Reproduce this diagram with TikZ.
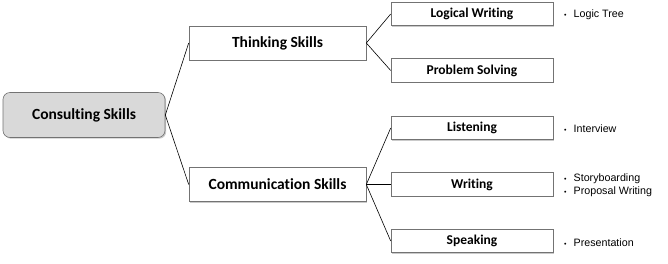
\documentclass[tikz,border=0pt]{standalone}
\usepackage{fontspec}
\setmainfont{Liberation Sans}
\newfontfamily\boxfont[Ligatures={NoCommon}]{Carlito}
\usetikzlibrary{shadows}
\begin{document}
\begin{tikzpicture}[x=1pt,y=-1pt,
  boxbase/.style={draw=black!55, line width=0.6pt, fill=white, inner sep=0pt,
    drop shadow={shadow xshift=1.2pt, shadow yshift=-1.2pt, opacity=0.35, fill=black!60}},
  rootbox/.style={boxbase, rounded corners=7pt, fill=black!15, minimum width=162pt, minimum height=45pt, font=\boxfont\bfseries\fontsize{15.5}{17}\selectfont},
  midbox/.style={boxbase, minimum width=177pt, minimum height=34pt, font=\boxfont\bfseries\fontsize{15.5}{17}\selectfont},
  leafbox/.style={boxbase, minimum width=162pt, minimum height=23.5pt, font=\boxfont\bfseries\fontsize{13.5}{15}\selectfont},
  note/.style={anchor=west, inner sep=0pt, font=\fontsize{10.7}{12}\selectfont},
  link/.style={draw=black, line width=0.6pt}]
\useasboundingbox (0,0) rectangle (668,263);
\node[rootbox] (root) at (84,115) {Consulting Skills};
\node[midbox] (think) at (277.5,43) {Thinking Skills};
\node[midbox] (comm) at (277.5,184.5) {Communication Skills};
\node[leafbox] (logic) at (472,14) {Logical Writing};
\node[leafbox] (prob) at (472,70.5) {Problem Solving};
\node[leafbox] (listen) at (472,128) {Listening};
\node[leafbox] (write) at (472,184.5) {Writing};
\node[leafbox] (speak) at (472,241) {Speaking};
\draw[link] (root.east) -- (think.west);
\draw[link] (root.east) -- (comm.west);
\draw[link] (think.east) -- (logic.west);
\draw[link] (think.east) -- (prob.west);
\draw[link] (comm.east) -- (listen.west);
\draw[link] (comm.east) -- (write.west);
\draw[link] (comm.east) -- (speak.west);
\node[note] (n1) at (564,14.5) {{\fontsize{7}{8}\selectfont •}\hspace{7pt}Logic Tree};
\node[note] (n2) at (564,128.5) {{\fontsize{7}{8}\selectfont •}\hspace{7pt}Interview};
\node[note] (n3) at (564,178.5) {{\fontsize{7}{8}\selectfont •}\hspace{7pt}Storyboarding};
\node[note] (n4) at (564,191.5) {{\fontsize{7}{8}\selectfont •}\hspace{7pt}Proposal Writing};
\node[note] (n5) at (564,242.5) {{\fontsize{7}{8}\selectfont •}\hspace{7pt}Presentation};
\end{tikzpicture}
\end{document}
